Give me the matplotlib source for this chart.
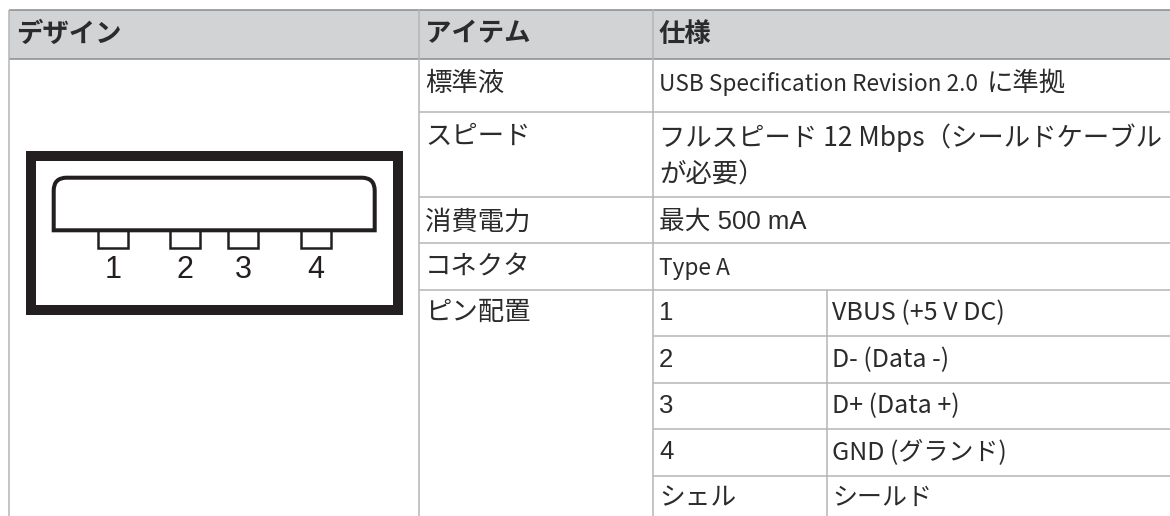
import matplotlib
matplotlib.use('Agg')
import matplotlib.pyplot as plt
from matplotlib.patches import Rectangle, PathPatch
from matplotlib.path import Path

cjk = ['Noto Sans CJK JP', 'DejaVu Sans']
wide = ['Liberation Sans', 'Noto Sans CJK JP', 'DejaVu Sans']
plt.rcParams['font.family'] = wide

W, H = 1170, 516

# table text
headers = ['デザイン', 'アイテム', '仕様']
items = ['標準液', 'スピード', '消費電力', 'コネクタ', 'ピン配置']
usb_latin = 'USB Specification Revision 2.0'
usb_jp = 'に準拠'
speed_1 = 'フルスピード 12 Mbps（シールドケーブル'
speed_2 = 'が必要）'
power = '最大 500 mA'
connector = 'Type A'
pin_names = ['1', '2', '3', '4', 'シェル']
pin_desc = ['VBUS (+5 V DC)', 'D- (Data -)', 'D+ (Data +)', 'GND (グランド)', 'シールド']
pin_labels = ['1', '2', '3', '4']

fig = plt.figure(figsize=(W / 100, H / 100), dpi=100)
ax = fig.add_axes([0, 0, 1, 1])
ax.set_xlim(0, W)
ax.set_ylim(H, 0)
ax.axis('off')

# column and row edges in pixels
x_left, x_col2, x_col3, x_col4, x_right = 8.5, 418.7, 653, 826.5, 1170
y_top, y_head = 10.3, 58.5
y_rows = [112, 197, 243, 290]
y_pins = [336, 383, 429, 476]
dark = '#231f20'
grid = '#b4b5b7'
tc = '#2b2b2b'

ax.add_patch(Rectangle((x_left, y_top), x_right - x_left, y_head - y_top,
                       fc='#d1d3d4', ec='none', zorder=0))


def line(x0, y0, x1, y1, c=grid, lw=1.1):
    ax.plot([x0, x1], [y0, y1], color=c, lw=lw, solid_capstyle='butt', zorder=1)


line(x_left, y_top, x_right, y_top, '#8a8c8e')
line(x_left, y_head, x_right, y_head, '#8a8c8e')
for x in [x_left, x_col2, x_col3]:
    line(x, y_top, x, H)
line(x_col4, y_rows[-1], x_col4, H)
for y in y_rows:
    line(x_col2, y, x_right, y)
for y in y_pins:
    line(x_col3, y, x_right, y)

# header
hdr_x = [16, 425, 659]
for x, s in zip(hdr_x, headers):
    ax.text(x, 34.5, s, fontsize=19, fontweight='bold', color=tc, va='center')

item_y = [84, 137, 222, 268, 313]
for y, s in zip(item_y, items):
    ax.text(425, y, s, fontsize=19, color=tc, va='center')

ax.text(659, 83.5, usb_latin, fontsize=16.3, family=cjk, color=tc, va='center')
ax.text(987, 83.5, usb_jp, fontsize=19, family=cjk, color=tc, va='center')
ax.text(659, 137.5, speed_1, fontsize=19, family=cjk, color=tc, va='center')
ax.text(659, 175, speed_2, fontsize=19, color=tc, va='center')
ax.text(659, 222, power, fontsize=18.5, color=tc, va='center')
ax.text(659, 268, connector, fontsize=16.3, family=cjk, color=tc, va='center')

pin_y = [313, 360, 406, 452, 498]
for y, a, b in zip(pin_y, pin_names, pin_desc):
    ax.text(659, y, a, fontsize=18.5, color=tc, va='center')
    ax.text(832, y, b, fontsize=18, family=cjk, color=tc, va='center')

# USB connector drawing
ax.add_patch(Rectangle((30.7, 155.5), 367, 154.8, fc='white', ec=dark, lw=7.2,
                       joinstyle='miter', zorder=2))
pin_x = [113, 185.3, 243.3, 316]
for x in pin_x:
    ax.add_patch(Rectangle((x - 15, 228), 30, 20.3, fc='white', ec=dark, lw=1.8, zorder=3))
# shell outline, rounded on top only
sl, sr, st, sb, r = 53.7, 374.7, 177.7, 230.3, 13
shell = Path([(sl, sb), (sl, st + r), (sl, st), (sl + r, st), (sr - r, st),
              (sr, st), (sr, st + r), (sr, sb), (sl, sb)],
             [Path.MOVETO, Path.LINETO, Path.CURVE3, Path.CURVE3, Path.LINETO,
              Path.CURVE3, Path.CURVE3, Path.LINETO, Path.CLOSEPOLY])
ax.add_patch(PathPatch(shell, fc='white', ec=dark, lw=2.9, joinstyle='miter', zorder=4))
for x, s in zip(pin_x, pin_labels):
    ax.text(x, 270.5, s, fontsize=22, color=dark, ha='center', va='center', zorder=5)

fig.savefig('out.png', dpi=100)
